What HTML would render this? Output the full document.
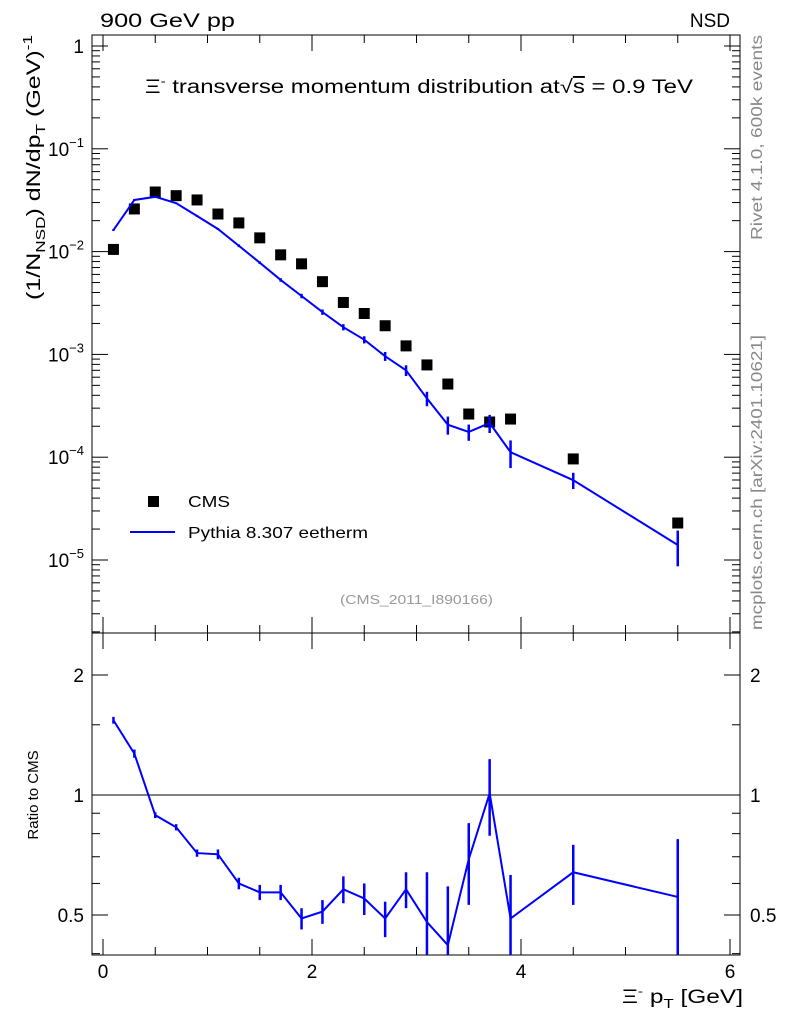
<!DOCTYPE html>
<html><head><meta charset="utf-8"><style>
body{margin:0;background:#fff;}
svg{font-family:"Liberation Sans",sans-serif;}
</style></head><body>
<svg id="c" width="786" height="1024" viewBox="0 0 786 1024">
<rect x="92" y="35" width="648" height="598" fill="none" stroke="#000" stroke-width="1"/>
<rect x="92" y="633" width="648" height="322" fill="none" stroke="#000" stroke-width="1"/>
<text x="100" y="27" font-size="19" textLength="135" lengthAdjust="spacingAndGlyphs">900 GeV pp</text>
<text x="730" y="27" font-size="19" text-anchor="end">NSD</text>
<text x="145" y="93" font-size="19" textLength="548" lengthAdjust="spacingAndGlyphs">Ξ<tspan font-size="12" dy="-8">-</tspan><tspan dy="8"> transverse momentum distribution at</tspan><tspan>√</tspan><tspan text-decoration="overline">s</tspan> = 0.9 TeV</text>
<text x="340" y="604" font-size="13" fill="#999" textLength="153" lengthAdjust="spacingAndGlyphs">(CMS_2011_I890166)</text>
<text transform="translate(762,240) rotate(-90)" font-size="16" fill="#888" textLength="205" lengthAdjust="spacingAndGlyphs">Rivet 4.1.0,  600k events</text>
<text transform="translate(762,630) rotate(-90)" font-size="16" fill="#888" textLength="295" lengthAdjust="spacingAndGlyphs">mcplots.cern.ch [arXiv:2401.10621]</text>
<text transform="translate(40,300) rotate(-90)" font-size="19" textLength="265" lengthAdjust="spacingAndGlyphs">(1/N<tspan font-size="13" dy="5">NSD</tspan><tspan dy="-5">) dN/dp</tspan><tspan font-size="13" dy="5">T</tspan><tspan dy="-5"> (GeV)</tspan><tspan font-size="13" dy="-8">-1</tspan></text>
<text transform="translate(38,795) rotate(-90)" font-size="15" text-anchor="middle">Ratio to CMS</text>
<text x="622" y="1003" font-size="19" textLength="121" lengthAdjust="spacingAndGlyphs">Ξ<tspan font-size="12" dy="-8">-</tspan><tspan dy="8"> p</tspan><tspan font-size="13" dy="5">T</tspan><tspan dy="-5"> [GeV]</tspan></text>
<g>
<rect x="148" y="496" width="11" height="11" fill="#000"/>
<text x="188" y="507" font-size="16" textLength="42" lengthAdjust="spacingAndGlyphs">CMS</text>
<line x1="130" y1="532" x2="175" y2="532" stroke="#00f" stroke-width="2"/>
<text x="188" y="538" font-size="16" textLength="180" lengthAdjust="spacingAndGlyphs">Pythia 8.307 eetherm</text>
</g>
<g id="axes"></g><g id="marks"></g>
</svg>
<script>
const xs=[0.1,0.3,0.5,0.7,0.9,1.1,1.3,1.5,1.7,1.9,2.1,2.3,2.5,2.7,2.9,3.1,3.3,3.5,3.7,3.9,4.5,5.5];
const cmsVals=[0.0105,0.026,0.038,0.035,0.0318,0.0232,0.019,0.0136,0.0093,0.0076,0.0051,0.0032,0.0025,0.0019,0.00121,0.00079,0.000515,0.000263,0.00022,0.000235,0.0000962,0.0000229];
const pyVals=[0.0162,0.0318,0.0341,0.0296,0.0222,0.0166,0.0114,0.0078,0.0053,0.0037,0.00258,0.00184,0.00139,0.00096,0.0007,0.000373,0.000207,0.000176,0.000215,0.000112,0.0000598,0.000014];
const pyErrFrac=[0.02,0.02,0.02,0.02,0.02,0.02,0.03,0.03,0.04,0.05,0.06,0.07,0.08,0.1,0.12,0.16,0.2,0.18,0.2,0.3,0.18,0.38];
const ratioVals=[1.54,1.27,0.89,0.83,0.715,0.71,0.6,0.57,0.57,0.49,0.51,0.58,0.55,0.49,0.58,0.48,0.42,0.69,1.01,0.49,0.64,0.555];
const ratioErr=[0.03,0.03,0.015,0.015,0.015,0.02,0.02,0.025,0.025,0.03,0.035,0.045,0.05,0.05,0.06,0.16,0.17,0.16,0.22,0.14,0.11,0.22];
const xTicks=[0,2,4,6];
const yDecades=[0,-1,-2,-3,-4,-5];
const ratioTicks=[0.5,1,2];
const NS="http://www.w3.org/2000/svg";
const X=v=>103+v*104.5;
const Y=v=>46-102.8*Math.log10(v);
const R=v=>795-120*Math.log2(v);
function mk(p,t,a,name){const e=document.createElementNS(NS,t);for(const k in a)e.setAttribute(k,a[k]);


p.appendChild(e);return e;}
const ax=document.getElementById('axes'),mg=document.getElementById('marks');
for(let v=0;v<=6.01;v+=0.5){const maj=Math.abs(v%2)<1e-6;const L=maj?16:8;const x=X(v);
[[955,955-L],[633,633-L],[633,633+L],[35,35+L]].forEach(s=>mk(ax,'line',{x1:x,x2:x,y1:s[0],y2:s[1],stroke:'#000'},'x-tick'));}
xTicks.forEach(v=>{const t=mk(ax,'text',{x:X(v),y:978,'font-size':19,'text-anchor':'middle'},'x-tick-label');t.textContent=v;});
for(let d=-6;d<=0;d++){for(let m=1;m<=9;m++){const v=m*Math.pow(10,d);const y=Y(v);if(y<35||y>633)continue;const L=m==1?16:8;
mk(ax,'line',{x1:92,x2:92+L,y1:y,y2:y,stroke:'#000'},'y-tick');mk(ax,'line',{x1:740,x2:740-L,y1:y,y2:y,stroke:'#000'},'y-tick');}}
yDecades.forEach(d=>{const t=mk(ax,'text',{x:84,y:Y(Math.pow(10,d))+7,'font-size':19,'text-anchor':'end'},'y-tick-label');
if(d==0)t.textContent='1';else{t.textContent='10';const s=document.createElementNS(NS,'tspan');s.setAttribute('dy','-9');s.setAttribute('font-size','13');s.textContent=String(d).replace('-','−');t.appendChild(s);}});
[0.4,0.5,0.6,0.7,0.8,0.9,1,1.5,2].forEach(v=>{const y=R(v);const L=ratioTicks.includes(v)?16:8;
mk(ax,'line',{x1:92,x2:92+L,y1:y,y2:y,stroke:'#000'},'ratio-tick');mk(ax,'line',{x1:740,x2:740-L,y1:y,y2:y,stroke:'#000'},'ratio-tick');});
ratioTicks.forEach(v=>{const t=mk(ax,'text',{x:84,y:R(v)+7,'font-size':19,'text-anchor':'end'},'ratio-tick-label');t.textContent=v;
const t2=mk(ax,'text',{x:750,y:R(v)+7,'font-size':19},'ratio-tick-label-right');t2.textContent=v;});
mk(ax,'line',{x1:92,x2:740,y1:R(1),y2:R(1),stroke:'#000'},'ratio-unity-line');
xs.forEach((x,i)=>mk(mg,'rect',{x:X(x)-5.5,y:Y(cmsVals[i])-5.5,width:11,height:11,fill:'#000'},'cms-point'));
mk(mg,'polyline',{points:xs.map((x,i)=>X(x)+','+Y(pyVals[i])).join(' '),fill:'none',stroke:'#00f','stroke-width':2},'pythia-line');
xs.forEach((x,i)=>{const v=pyVals[i],e=pyErrFrac[i];mk(mg,'line',{x1:X(x),x2:X(x),y1:Y(v*(1+e)),y2:Y(v*(1-e)),stroke:'#00f','stroke-width':2.5},'pythia-errorbar');});
const clipY=v=>Math.min(955,Math.max(633,R(v)));
mk(mg,'polyline',{points:xs.map((x,i)=>X(x)+','+clipY(ratioVals[i])).join(' '),fill:'none',stroke:'#00f','stroke-width':2},'ratio-line');
xs.forEach((x,i)=>{const v=ratioVals[i],e=ratioErr[i];mk(mg,'line',{x1:X(x),x2:X(x),y1:clipY(v+e),y2:clipY(Math.max(v-e,0.01)),stroke:'#00f','stroke-width':2.5},'ratio-errorbar');});
</script>
</body></html>
